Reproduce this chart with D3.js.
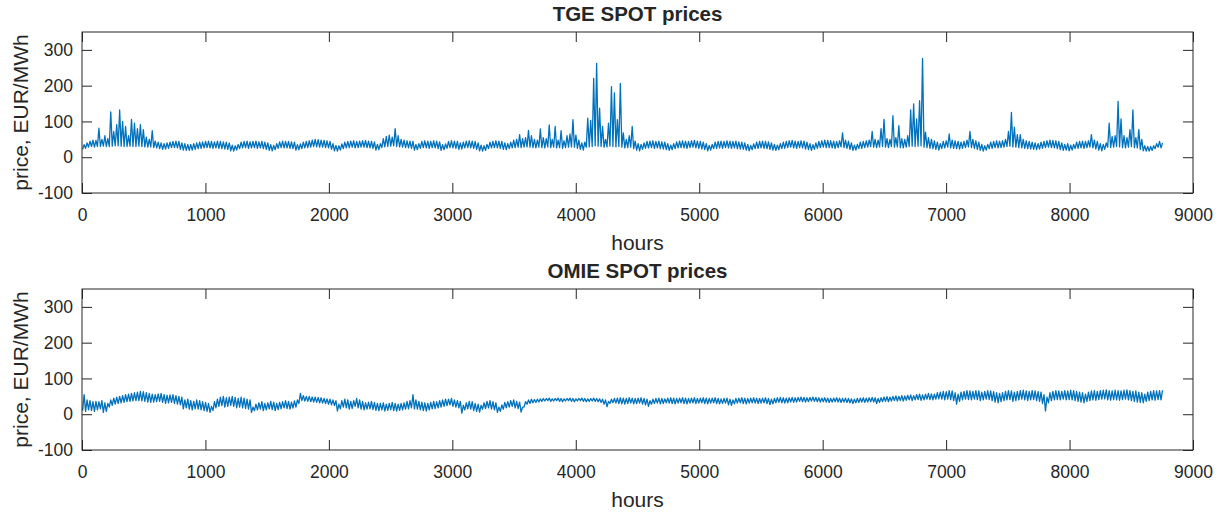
<!DOCTYPE html>
<html lang="en">
<head>
<meta charset="UTF-8">
<title>TGE and OMIE SPOT prices</title>
<script src="https://d3js.org/d3.v7.min.js"></script>
<style>
  body { margin: 0; background: #fff; }
  text { font-family: "Liberation Sans", Arial, Helvetica, sans-serif; fill: #262626; }
</style>
</head>
<body>
<svg id="chart" width="1226" height="517"></svg>
<script>
// daily low / high prices (EUR/MWh), one value per day
const tgeLow = [
  22, 25, 28, 30, 28, 30, 30, 31, 30, 30,
  31, 32, 32, 31, 30, 30, 31, 30, 30, 31,
  30, 29, 28, 29, 27, 26, 24, 22, 23, 25,
  27, 27, 26, 22, 20, 19, 19, 20, 22, 24,
  25, 26, 27, 26, 25, 26, 25, 24, 23, 22,
  18, 17, 20, 24, 26, 27, 25, 26, 27, 25,
  26, 24, 22, 19, 18, 21, 25, 27, 26, 26,
  25, 24, 20, 21, 24, 26, 27, 28, 30, 29,
  28, 28, 27, 26, 22, 18, 17, 20, 24, 26,
  27, 28, 26, 27, 28, 28, 27, 26, 25, 20,
  21, 27, 29, 30, 31, 32, 30, 29, 28, 27,
  26, 25, 20, 21, 25, 27, 26, 25, 27, 26,
  24, 19, 21, 25, 27, 26, 25, 22, 23, 26,
  27, 26, 25, 22, 18, 17, 19, 24, 26, 27,
  26, 25, 22, 21, 24, 26, 27, 28, 27, 28,
  29, 28, 27, 26, 28, 27, 26, 29, 27, 28,
  26, 27, 25, 27, 28, 29, 28, 25, 22, 20,
  28, 29, 30, 32, 31, 30, 28, 29, 31, 30,
  29, 30, 28, 26, 27, 28, 24, 20, 18, 22,
  25, 26, 27, 25, 26, 24, 23, 21, 19, 21,
  24, 26, 27, 26, 25, 27, 28, 26, 25, 23,
  21, 18, 20, 24, 25, 26, 25, 27, 26, 25,
  26, 24, 23, 22, 20, 18, 21, 24, 25, 26,
  25, 24, 22, 20, 19, 21, 24, 25, 27, 28,
  26, 25, 27, 26, 23, 21, 19, 22, 25, 27,
  28, 27, 27, 26, 25, 27, 29, 27, 25, 22,
  19, 20, 24, 25, 27, 28, 30, 28, 27, 29,
  30, 28, 27, 30, 28, 29, 27, 26, 28, 30,
  31, 30, 31, 32, 28, 27, 25, 24, 22, 20,
  24, 26, 28, 26, 25, 24, 23, 25, 27, 29,
  27, 25, 22, 19, 17, 20, 24, 25, 27, 26,
  27, 28, 30, 31, 29, 28, 27, 26, 25, 24,
  23, 22, 21, 23, 25, 27, 28, 27, 26, 24,
  21, 19, 20, 18, 20, 24, 25, 26, 25, 27,
  28, 26, 23, 20, 18, 22, 28, 27, 28, 30,
  29, 27, 26, 28, 30, 27, 26, 22, 18, 17,
  17, 19, 24, 28, 26
];
const tgeHigh = [
  35, 40, 45, 48, 47, 81, 50, 60, 52, 127,
  72, 91, 132, 100, 86, 60, 106, 95, 80, 91,
  77, 56, 50, 74, 45, 42, 40, 38, 40, 42,
  44, 45, 44, 40, 38, 36, 36, 38, 40, 42,
  43, 44, 45, 44, 43, 45, 44, 43, 42, 40,
  34, 32, 36, 42, 44, 45, 43, 44, 45, 43,
  44, 42, 40, 35, 33, 38, 43, 45, 44, 44,
  43, 42, 35, 37, 42, 44, 46, 48, 50, 49,
  48, 47, 46, 44, 38, 33, 32, 37, 42, 44,
  45, 46, 44, 45, 46, 47, 45, 44, 43, 36,
  38, 52, 58, 62, 56, 80, 60, 50, 48, 46,
  45, 44, 36, 38, 44, 46, 45, 44, 46, 45,
  43, 35, 37, 44, 46, 45, 44, 40, 42, 45,
  46, 45, 44, 40, 34, 32, 36, 42, 44, 46,
  45, 44, 40, 38, 42, 48, 50, 63, 52, 55,
  75, 60, 50, 48, 79, 55, 52, 90, 50, 86,
  48, 74, 46, 60, 65, 105, 62, 48, 40, 42,
  109, 103, 220, 262, 137, 86, 50, 95, 197, 180,
  105, 206, 68, 50, 60, 86, 45, 38, 36, 40,
  44, 45, 46, 44, 45, 43, 42, 38, 34, 38,
  43, 45, 46, 45, 44, 46, 47, 45, 44, 42,
  38, 33, 36, 42, 44, 45, 44, 46, 45, 44,
  45, 43, 42, 40, 36, 33, 37, 42, 44, 45,
  44, 43, 40, 36, 34, 38, 42, 44, 46, 47,
  45, 44, 46, 45, 42, 38, 35, 40, 44, 46,
  48, 47, 46, 45, 44, 46, 68, 48, 45, 40,
  34, 36, 42, 44, 46, 48, 72, 50, 48, 80,
  106, 52, 50, 116, 55, 88, 52, 50, 60, 132,
  149, 107, 158, 276, 70, 55, 50, 46, 42, 38,
  44, 46, 65, 48, 46, 44, 42, 44, 48, 72,
  50, 46, 42, 36, 32, 36, 42, 44, 46, 45,
  46, 50, 72, 125, 84, 63, 63, 50, 46, 44,
  42, 40, 38, 42, 44, 46, 48, 47, 46, 44,
  40, 36, 38, 34, 36, 42, 44, 45, 44, 46,
  63, 48, 44, 38, 36, 40, 95, 58, 60, 156,
  107, 60, 55, 77, 132, 55, 77, 50, 32, 30,
  30, 32, 38, 44, 40
];
const omieLow = [
  10, 8, 12, 10, 8, 12, 15, 5, 8, 20,
  25, 28, 30, 32, 33, 35, 36, 37, 38, 38,
  37, 36, 34, 33, 34, 35, 36, 33, 30, 32,
  33, 30, 28, 26, 15, 18, 14, 12, 15, 14,
  12, 10, 8, 5, 10, 18, 22, 24, 20, 22,
  25, 22, 18, 20, 18, 16, 14, 5, 10, 12,
  14, 10, 12, 15, 13, 10, 13, 15, 18, 16,
  14, 17, 20, 30, 38, 37, 36, 35, 34, 33,
  32, 31, 30, 28, 26, 24, 9, 15, 20, 18,
  14, 16, 22, 18, 14, 12, 14, 15, 13, 11,
  10, 12, 9, 11, 13, 10, 9, 11, 12, 14,
  15, 18, 15, 14, 12, 10, 9, 12, 15, 16,
  18, 20, 22, 24, 26, 22, 20, 18, 3, 12,
  15, 14, 10, 8, 6, 14, 16, 18, 14, 12,
  5, 8, 14, 18, 20, 22, 18, 16, 6, 20,
  28, 30, 32, 33, 34, 36, 37, 38, 36, 37,
  38, 36, 35, 37, 38, 36, 35, 37, 38, 36,
  35, 36, 37, 36, 35, 33, 28, 21, 30, 32,
  31, 30, 29, 28, 30, 31, 29, 30, 31, 28,
  26, 22, 28, 30, 31, 29, 30, 32, 31, 30,
  29, 31, 32, 30, 29, 31, 32, 30, 31, 32,
  30, 29, 31, 32, 30, 29, 30, 31, 26, 25,
  29, 31, 32, 30, 29, 31, 32, 31, 30, 31,
  32, 30, 27, 29, 32, 33, 32, 31, 32, 34,
  33, 34, 36, 35, 34, 35, 37, 36, 35, 34,
  35, 34, 33, 34, 35, 34, 33, 34, 33, 32,
  30, 32, 33, 34, 33, 34, 35, 34, 30, 33,
  35, 36, 35, 37, 38, 37, 38, 37, 39, 40,
  38, 40, 41, 39, 40, 42, 41, 40, 42, 43,
  42, 40, 42, 41, 38, 28, 36, 40, 42, 41,
  40, 42, 41, 38, 40, 42, 41, 38, 34, 32,
  35, 38, 40, 41, 36, 38, 40, 42, 40, 38,
  40, 41, 38, 36, 30, 9, 32, 38, 40, 41,
  40, 42, 40, 41, 40, 38, 36, 34, 32, 36,
  38, 40, 39, 41, 42, 43, 40, 39, 41, 40,
  39, 41, 42, 40, 38, 36, 34, 33, 32, 36,
  38, 40, 39, 41, 40
];
const omieHigh = [
  55, 40, 38, 35, 36, 35, 38, 32, 30, 40,
  45, 48, 50, 52, 55, 56, 58, 60, 62, 64,
  63, 60, 58, 56, 55, 57, 58, 55, 53, 54,
  55, 52, 50, 48, 40, 42, 38, 36, 40, 38,
  35, 33, 30, 22, 35, 42, 48, 50, 46, 48,
  50, 47, 44, 48, 45, 42, 40, 20, 28, 32,
  35, 30, 32, 36, 34, 30, 33, 35, 38, 36,
  34, 37, 40, 58, 52, 50, 50, 48, 48, 47,
  46, 44, 43, 42, 40, 38, 28, 38, 42, 40,
  36, 38, 44, 40, 36, 32, 34, 36, 33, 30,
  30, 32, 28, 30, 33, 30, 28, 30, 32, 36,
  38, 55, 40, 36, 34, 32, 30, 33, 36, 35,
  38, 40, 42, 42, 44, 40, 38, 36, 25, 32,
  36, 35, 30, 28, 25, 32, 36, 38, 35, 32,
  20, 26, 33, 35, 38, 40, 36, 34, 20, 35,
  40, 42, 41, 42, 43, 44, 44, 45, 43, 44,
  45, 44, 43, 44, 45, 44, 43, 44, 45, 44,
  43, 44, 45, 44, 43, 42, 40, 36, 42, 44,
  45, 46, 45, 44, 46, 45, 44, 45, 46, 44,
  42, 38, 42, 44, 45, 44, 43, 45, 46, 45,
  44, 45, 46, 45, 44, 45, 46, 44, 45, 46,
  45, 44, 45, 46, 44, 43, 44, 45, 42, 40,
  44, 45, 46, 45, 44, 45, 46, 45, 44, 45,
  46, 44, 42, 44, 46, 47, 46, 45, 46, 47,
  46, 47, 48, 47, 46, 47, 48, 47, 46, 45,
  46, 45, 44, 45, 46, 45, 44, 45, 44, 43,
  42, 44, 45, 46, 45, 46, 47, 46, 44, 46,
  48, 49, 48, 50, 51, 50, 52, 51, 53, 54,
  52, 55, 56, 54, 56, 58, 57, 56, 60, 62,
  64, 63, 66, 65, 60, 56, 62, 64, 66, 65,
  64, 66, 65, 62, 64, 66, 65, 63, 60, 58,
  60, 64, 66, 65, 62, 64, 66, 67, 65, 64,
  66, 65, 63, 62, 55, 48, 60, 64, 66, 65,
  64, 66, 65, 67, 66, 64, 62, 60, 56, 62,
  65, 66, 64, 66, 67, 68, 66, 65, 67, 66,
  65, 67, 68, 66, 64, 65, 62, 60, 56, 62,
  64, 66, 65, 66, 67
];

const xTicks = [0, 1000, 2000, 3000, 4000, 5000, 6000, 7000, 8000, 9000];
const yTicks = [-100, 0, 100, 200, 300];

const panels = [
  { title: 'TGE SPOT prices', low: tgeLow, high: tgeHigh, top: 32 },
  { title: 'OMIE SPOT prices', low: omieLow, high: omieHigh, top: 289 }
];

const svg = d3.select('#chart');
const left = 82, right = 1193, plotH = 161;
const ink = '#262626';

const x = d3.scaleLinear().domain([0, 9000]).range([left, right]);

// each day: low in the early hours, high in the afternoon
function dayPoints(lows, highs) {
  const pts = [];
  lows.forEach((lo, d) => {
    pts.push([d * 24 + 5, lo]);
    pts.push([d * 24 + 17, highs[d]]);
  });
  return pts;
}

const plain = d => String(d);

panels.forEach(p => {
  const y = d3.scaleLinear().domain([-100, 350]).range([p.top + plotH, p.top]);
  const g = svg.append('g');

  const line = d3.line().x(d => x(d[0])).y(d => y(d[1]));
  g.append('path')
    .datum(dayPoints(p.low, p.high))
    .attr('fill', 'none')
    .attr('stroke', '#0072BD')
    .attr('stroke-width', 1.3)
    .attr('stroke-linejoin', 'round')
    .attr('d', line);

  // axes, MATLAB style: inward ticks on all four sides
  const styleAxis = sel => {
    sel.select('.domain').remove();
    sel.selectAll('.tick line').attr('stroke', ink);
    sel.selectAll('.tick text').style('font-size', '17.5px').attr('fill', ink);
  };

  g.append('g')
    .attr('transform', `translate(0,${p.top + plotH})`)
    .call(d3.axisBottom(x).tickValues(xTicks).tickFormat(plain).tickSizeInner(-10).tickSizeOuter(0).tickPadding(16))
    .call(styleAxis);
  g.append('g')
    .attr('transform', `translate(0,${p.top})`)
    .call(d3.axisTop(x).tickValues(xTicks).tickSizeInner(-10).tickSizeOuter(0).tickFormat(''))
    .call(styleAxis);
  g.append('g')
    .attr('transform', `translate(${left},0)`)
    .call(d3.axisLeft(y).tickValues(yTicks).tickFormat(plain).tickSizeInner(-10).tickSizeOuter(0).tickPadding(9))
    .call(styleAxis);
  g.append('g')
    .attr('transform', `translate(${right},0)`)
    .call(d3.axisRight(y).tickValues(yTicks).tickSizeInner(-10).tickSizeOuter(0).tickFormat(''))
    .call(styleAxis);

  g.append('rect')
    .attr('x', left).attr('y', p.top)
    .attr('width', right - left).attr('height', plotH)
    .attr('fill', 'none').attr('stroke', ink).attr('stroke-width', 1);

  g.append('text')
    .attr('x', (left + right) / 2).attr('y', p.top - 11)
    .attr('text-anchor', 'middle')
    .style('font-size', '20.5px').style('font-weight', 'bold')
    .text(p.title);

  g.append('text')
    .attr('x', (left + right) / 2).attr('y', p.top + plotH + 57)
    .attr('text-anchor', 'middle')
    .style('font-size', '21px')
    .text('hours');

  g.append('text')
    .attr('transform', `translate(28,${p.top + plotH / 2}) rotate(-90)`)
    .attr('text-anchor', 'middle')
    .style('font-size', '21px')
    .text('price, EUR/MWh');
});
</script>
</body>
</html>
